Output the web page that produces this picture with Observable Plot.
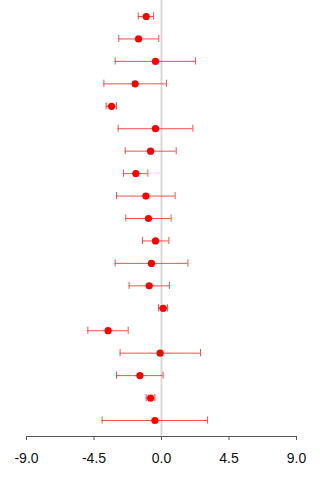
<!DOCTYPE html>
<html>
<head>
<meta charset="utf-8">
<script src="https://cdn.jsdelivr.net/npm/d3@7"></script>
<script src="https://cdn.jsdelivr.net/npm/@observablehq/plot@0.6"></script>
<style>
  html, body { margin: 0; padding: 0; background: #fff; }
  #chart svg { display: block; }
</style>
</head>
<body>
<div id="chart"></div>
<script>
// Effect estimates with confidence intervals, one row per study (top to bottom)
const rows      = [1, 2, 3, 4, 5, 6, 7, 8, 9, 10, 11, 12, 13, 14, 15, 16, 17, 18, 19];
const estimates = [-1.02, -1.53, -0.40, -1.76, -3.33, -0.40, -0.73, -1.71, -1.04, -0.87, -0.40, -0.67, -0.82, 0.11, -3.56, -0.09, -1.44, -0.73, -0.44];
const lower     = [-1.55, -2.85, -3.09, -3.84, -3.69, -2.89, -2.42, -2.53, -3.00, -2.38, -1.27, -3.09, -2.16, -0.20, -4.91, -2.76, -3.00, -1.02, -3.96];
const upper     = [-0.53, -0.18, 2.27, 0.33, -3.00, 2.09, 0.98, -0.91, 0.91, 0.64, 0.49, 1.76, 0.53, 0.40, -2.22, 2.60, 0.11, -0.44, 3.07];
const xTicks    = [-9, -4.5, 0, 4.5, 9];

const data = rows.map((r, i) => ({row: r, est: estimates[i], lo: lower[i], hi: upper[i]}));

const yDomain = [0.287, 19.713];
const cap = 0.16;

const chart = Plot.plot({
  width: 320,
  height: 480,
  marginTop: 0,
  marginBottom: 44,
  marginLeft: 26,
  marginRight: 24,
  style: {fontFamily: "'Liberation Sans', Arial, sans-serif", background: "#fff"},
  x: {domain: [xTicks[0], xTicks[xTicks.length - 1]]},
  y: {domain: yDomain, reverse: true, axis: null},
  marks: [
    // reference line at zero effect
    Plot.ruleX([0], {y1: yDomain[0], y2: yDomain[1], stroke: "#d9d9d9", strokeWidth: 2}),
    // confidence intervals
    Plot.ruleY(data, {y: "row", x1: "lo", x2: "hi", stroke: "#f22", strokeOpacity: 0.8, strokeWidth: 1}),
    Plot.ruleX(data, {x: "lo", y1: d => d.row - cap, y2: d => d.row + cap, stroke: "#f22", strokeOpacity: 0.8, strokeWidth: 1}),
    Plot.ruleX(data, {x: "hi", y1: d => d.row - cap, y2: d => d.row + cap, stroke: "#f22", strokeOpacity: 0.8, strokeWidth: 1}),
    // point estimates
    Plot.dot(data, {x: "est", y: "row", r: 3.6, fill: "#ff0000", stroke: "none"}),
    // x axis line and ticks
    Plot.ruleY([yDomain[1]], {x1: xTicks[0], x2: xTicks[xTicks.length - 1], stroke: "#555", strokeWidth: 1}),
    Plot.axisX({
      ticks: xTicks,
      tickFormat: d => d.toFixed(1),
      tickSize: 4,
      tickPadding: 13,
      stroke: "#555",
      fill: "#111",
      fontSize: 14,
      label: null
    })
  ]
});

document.getElementById("chart").appendChild(chart);
</script>
</body>
</html>
